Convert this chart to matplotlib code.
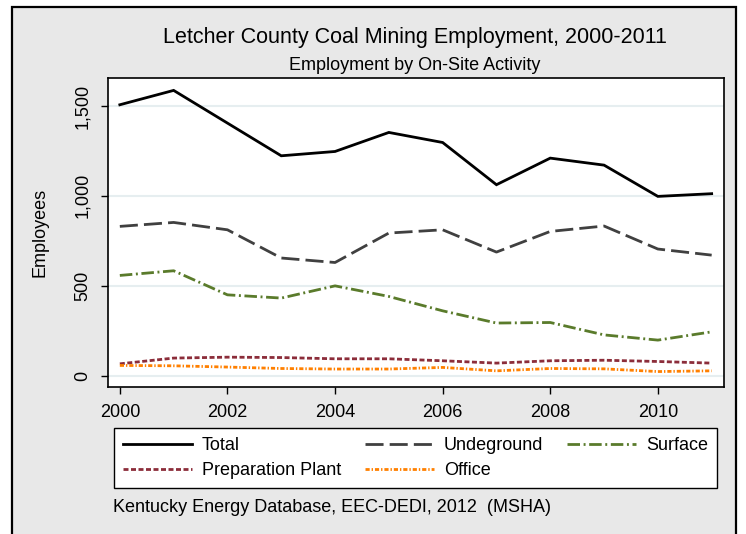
# ============================================================================
# LIBRARY IMPORTS
# ============================================================================
import matplotlib
matplotlib.use("Agg")
import matplotlib.pyplot as plt
from matplotlib.patches import Rectangle

# ============================================================================
# DATA
# ============================================================================
years = [2000, 2001, 2002, 2003, 2004, 2005, 2006, 2007, 2008, 2009, 2010, 2011]
total = [1507, 1587, 1405, 1223, 1247, 1353, 1297, 1062, 1210, 1171, 997, 1012]
underground = [830, 852, 811, 654, 629, 793, 811, 687, 802, 832, 704, 670]
surface = [557, 583, 449, 431, 499, 440, 360, 292, 295, 226, 197, 243]
prep_plant = [65, 97, 102, 100, 93, 93, 82, 69, 82, 85, 78, 69]
office = [56, 54, 47, 39, 36, 36, 45, 26, 39, 37, 22, 26]

x_ticks = [2000, 2002, 2004, 2006, 2008, 2010]
y_ticks = [0, 500, 1000, 1500]

# ============================================================================
# FIGURE SETUP
# ============================================================================
plt.rcParams['font.family'] = ['Liberation Sans', 'DejaVu Sans']

W, H = 746, 534
fig = plt.figure(figsize=(W / 100, H / 100), dpi=100)
fig.patch.set_facecolor('white')

# gray graph region with black frame (bottom edge runs off the image)
fig.patches.append(Rectangle((12 / W, -0.05), (736 - 12) / W, 1.05 - 7 / H,
                             transform=fig.transFigure, facecolor='#e8e8e8',
                             edgecolor='black', linewidth=1.6, zorder=-10))

ax = fig.add_axes([108 / W, 1 - 387 / H, (723.5 - 108) / W, (387 - 78) / H])
ax.set_zorder(2)
ax.set_facecolor('white')

# ============================================================================
# LINES
# ============================================================================
l_total, = ax.plot(years, total, color='black', linewidth=2.0,
                   solid_joinstyle='miter', label='Total')
l_under, = ax.plot(years, underground, color='#404040', linewidth=2.0,
                   dashes=(6.5, 2.2), label='Undeground')
l_surf, = ax.plot(years, surface, color='#5a7b2b', linewidth=2.0,
                  dashes=(4.5, 1.3, 0.7, 1.3), label='Surface')
l_prep, = ax.plot(years, prep_plant, color='#8c2d3a', linewidth=2.0,
                  dashes=(1.8, 0.9), label='Preparation Plant')
l_off, = ax.plot(years, office, color='#ff8000', linewidth=2.0,
                 dashes=(1.5, 0.7, 0.5, 0.7), label='Office')

# ============================================================================
# AXES CUSTOMIZATION
# ============================================================================
ax.set_xlim(1999.78, 2011.22)
ax.set_ylim(-64, 1656)
ax.set_xticks(x_ticks)
ax.set_yticks(y_ticks)
ax.yaxis.set_major_formatter(plt.FuncFormatter(lambda v, _: f'{int(v):,}'))

ax.grid(True, axis='y', color='#e6eef0', linewidth=1.5)
ax.set_axisbelow(True)
for s in ax.spines.values():
    s.set_linewidth(1.2)
    s.set_color('black')

ax.tick_params(axis='both', direction='out', length=5, width=1.0,
               labelsize=13, pad=7, colors='black')
ax.tick_params(axis='y', labelrotation=90)
for lab in ax.get_yticklabels():
    lab.set_va('center')

# ============================================================================
# TEXT
# ============================================================================
fig.text(415 / W, 1 - 38 / H, 'Letcher County Coal Mining Employment, 2000-2011',
         ha='center', va='center', fontsize=15.5)
fig.text(415 / W, 1 - 65 / H, 'Employment by On-Site Activity',
         ha='center', va='center', fontsize=13)
fig.text(40 / W, 1 - 232 / H, 'Employees', rotation=90,
         ha='center', va='center', fontsize=13)
fig.text(113 / W, 1 - 507 / H, 'Kentucky Energy Database, EEC-DEDI, 2012  (MSHA)',
         ha='left', va='center', fontsize=13)

# ============================================================================
# LEGEND (row-wise order: Total, Undeground, Surface / Prep, Office)
# ============================================================================
leg = fig.legend([l_total, l_prep, l_under, l_off, l_surf],
                 ['Total', 'Preparation Plant', 'Undeground', 'Office', 'Surface'],
                 ncol=3, loc='upper left', bbox_to_anchor=(114 / W, 1 - 428 / H),
                 fontsize=13, frameon=True, fancybox=False, framealpha=1,
                 edgecolor='black', handlelength=3.8, handletextpad=0.55,
                 columnspacing=1.35, labelspacing=0.45, borderpad=0.5,
                 borderaxespad=0)
leg.get_frame().set_linewidth(1.0)

# ============================================================================
# SAVE
# ============================================================================
plt.savefig('out.png', dpi=100, facecolor='white')
